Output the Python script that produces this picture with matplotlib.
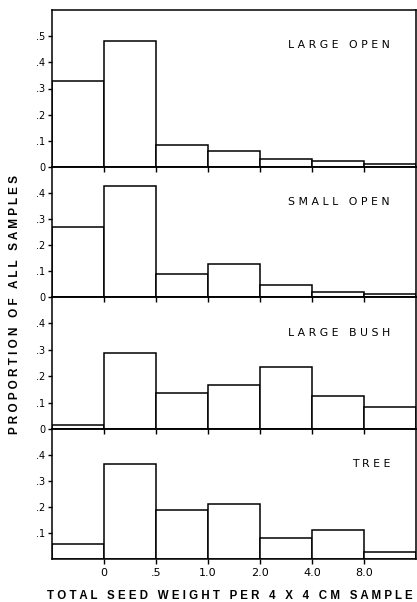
import matplotlib
matplotlib.use("Agg")
import matplotlib.pyplot as plt

# proportion of samples in each seed-weight class
bin_labels = ["0", ".5", "1.0", "2.0", "4.0", "8.0"]
large_open = [0.33, 0.48, 0.085, 0.062, 0.032, 0.022, 0.012]
small_open = [0.268, 0.427, 0.087, 0.128, 0.045, 0.018, 0.010]
large_bush = [0.015, 0.287, 0.135, 0.167, 0.235, 0.124, 0.082]
tree = [0.059, 0.365, 0.190, 0.210, 0.079, 0.112, 0.028]

panel_names = ["LARGE OPEN", "SMALL OPEN", "LARGE BUSH", "TREE"]
panel_data = [large_open, small_open, large_bush, tree]
panel_tops = [0.6, 0.5, 0.5, 0.5]


def spaced(s):
    """letter-spaced lettering like the original figure"""
    return "   ".join(" ".join(w) for w in s.split(" "))


plt.rcParams['font.family'] = ['DejaVu Sans']

W, H = 417, 602
fig = plt.figure(figsize=(W / 100, H / 100), dpi=100)

# panel extents in pixels (top, bottom)
px_rows = [(10, 167), (167, 297), (297, 429), (429, 559)]
left, right = 52, 416

axes = []
for i, (name, vals, top) in enumerate(zip(panel_names, panel_data, panel_tops)):
    y0, y1 = px_rows[i]
    ax = fig.add_axes([left / W, 1 - y1 / H, (right - left) / W, (y1 - y0) / H])
    ax.patch.set_visible(False)
    ax.bar(range(len(vals)), vals, width=1, align='edge',
           facecolor='white', edgecolor='black', linewidth=1.1)
    ax.set_xlim(0, len(vals))
    ax.set_ylim(0, top)

    yt = [round(0.1 * k, 1) for k in range(int(round(top * 10)))]
    ylabs = ["0"] + ["." + str(k) for k in range(1, len(yt))]
    if i == 3:
        yt = yt[1:]
        ylabs = ylabs[1:]
    ax.set_yticks(yt)
    ax.set_yticklabels(ylabs, fontsize=7)

    ax.set_xticks(range(1, len(bin_labels) + 1))
    if i == 3:
        ax.set_xticklabels(bin_labels, fontsize=8)
    else:
        ax.set_xticklabels([])
    ax.tick_params(axis='y', direction='out', length=3, width=1, pad=2)
    ax.tick_params(axis='x', direction='out', length=3.5, width=1, pad=3)
    for sp in ax.spines.values():
        sp.set_linewidth(1.1)

    ax.text(6.5, top - 0.135, spaced(name), ha='right', va='center', fontsize=7.8)
    axes.append(ax)

fig.text(47 / W, 1 - 596 / H, spaced("TOTAL SEED WEIGHT PER 4 X 4 CM SAMPLE"),
         ha='left', va='center', fontsize=8.3, fontweight='bold',
         family='Liberation Sans')
fig.text(15 / W, 1 - 305 / H, spaced("PROPORTION OF ALL SAMPLES"),
         ha='center', va='center', rotation=90, fontsize=8.5, fontweight='bold',
         family='Liberation Sans')

fig.savefig("out.png", dpi=100)
